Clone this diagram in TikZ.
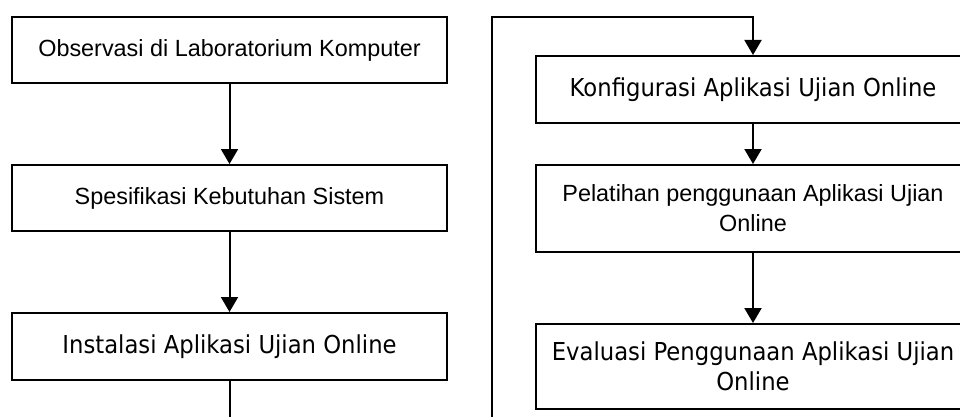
\documentclass[tikz,border=0pt]{standalone}
\usepackage{fontspec}
\setmainfont{Liberation Sans}
\newfontfamily\tahomalike[FakeStretch=0.92]{DejaVu Sans}
\usetikzlibrary{arrows.meta}
\tikzset{
  flowbox/.style={draw=black, line width=2pt, fill=white, minimum width=435pt, inner sep=0pt, align=center},
  arialtxt/.style={font=\fontsize{23.4pt}{30pt}\selectfont},
  tahtxt/.style={font=\tahomalike\fontsize{24.7pt}{30pt}\selectfont},
  flowarrow/.style={line width=2pt, -{Triangle[width=17pt,length=15pt]}},
  flowline/.style={line width=2pt}
}
\begin{document}
\begin{tikzpicture}[x=1pt,y=1pt]
\clip (0,0) rectangle (960,416);
\fill[white] (0,0) rectangle (960,416);
% left column
\node[flowbox, arialtxt, minimum height=66pt] (b1) at (229.5,366) {Observasi di Laboratorium Komputer};
\node[flowbox, arialtxt, minimum height=66pt] (b2) at (229.5,218) {Spesifikasi Kebutuhan Sistem};
\node[flowbox, tahtxt, minimum height=67pt] (b3) at (229.5,69.5) {Instalasi Aplikasi Ujian Online};
% right column
\node[flowbox, tahtxt, minimum height=67pt] (k) at (753,326.5) {Konfigurasi Aplikasi Ujian Online};
\node[flowbox, arialtxt, minimum height=87pt] (p) at (753,207.5) {Pelatihan penggunaan Aplikasi Ujian\\Online};
\node[flowbox, tahtxt, minimum height=85pt] (e) at (753,49.5) {Evaluasi Penggunaan Aplikasi Ujian\\Online};
\coordinate (lb) at (229.5,-10);
\coordinate (rb) at (492,-10);
\coordinate (rt) at (492,399);
% connectors
\draw[flowarrow] (b1) -- (b2);
\draw[flowarrow] (b2) -- (b3);
\draw[flowline] (b3) -- (lb);
\draw[flowarrow] (rb) -- (rt) -| (k);
\draw[flowarrow] (k) -- (p);
\draw[flowarrow] (p) -- (e);
\end{tikzpicture}
\end{document}
